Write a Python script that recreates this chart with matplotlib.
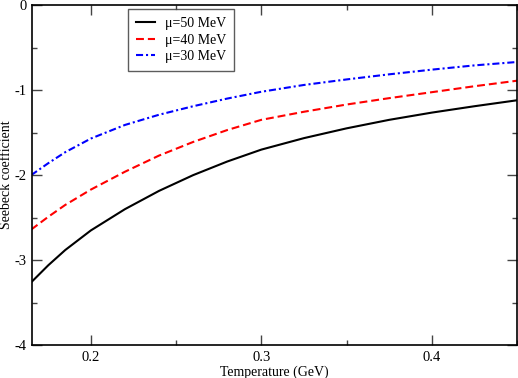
import matplotlib
matplotlib.use("Agg")
import matplotlib.pyplot as plt
from matplotlib.ticker import MultipleLocator, FormatStrFormatter

plt.rcParams["font.family"] = ["Liberation Serif", "DejaVu Serif"]
plt.rcParams["axes.unicode_minus"] = False

# Temperature grid (GeV) and Seebeck coefficient
temp = [0.165, 0.175, 0.185, 0.20, 0.22, 0.24, 0.26, 0.28, 0.30,
        0.325, 0.35, 0.375, 0.40, 0.425, 0.45]
s_mu50 = [-3.26, -3.06, -2.88, -2.65, -2.40, -2.185, -2.00, -1.84, -1.70,
          -1.565, -1.45, -1.35, -1.265, -1.19, -1.12]
s_mu40 = [-2.64, -2.49, -2.35, -2.17, -1.96, -1.77, -1.61, -1.47, -1.35,
          -1.255, -1.17, -1.095, -1.025, -0.955, -0.89]
s_mu30 = [-2.00, -1.86, -1.73, -1.57, -1.41, -1.29, -1.19, -1.10, -1.02,
          -0.94, -0.875, -0.815, -0.76, -0.71, -0.67]
labels = ["\u03bc=50 MeV", "\u03bc=40 MeV", "\u03bc=30 MeV"]

fig = plt.figure(figsize=(5.18, 3.78), dpi=100)
ax = fig.add_axes([0.0618, 0.0865, 0.9363, 0.9003])

ax.plot(temp, s_mu50, color="black", lw=1.5, label=labels[0])
ax.plot(temp, s_mu40, color="red", lw=1.5, linestyle=(0, (3.8, 1.9)), label=labels[1])
ax.plot(temp, s_mu30, color="blue", lw=1.5, linestyle=(0, (3.4, 1.4, 1.0, 1.4)), label=labels[2])

ax.set_xlim(0.1655, 0.45)
ax.set_ylim(-4, 0)
ax.xaxis.set_major_locator(MultipleLocator(0.1))
ax.xaxis.set_minor_locator(MultipleLocator(0.05))
ax.yaxis.set_major_locator(MultipleLocator(1))
ax.yaxis.set_minor_locator(MultipleLocator(0.5))
ax.xaxis.set_major_formatter(FormatStrFormatter("%.1f"))
ax.yaxis.set_major_formatter(FormatStrFormatter("%d"))

ax.tick_params(which="both", direction="in", top=True, right=True,
               labelsize=10.5, color="#444444", width=1.0)
ax.tick_params(which="major", length=7, pad=4)
ax.tick_params(which="minor", length=3.5)
for sp in ax.spines.values():
    sp.set_linewidth(1.2)

ax.set_xlabel("Temperature (GeV)", fontsize=10, labelpad=1)
ax.set_ylabel("Seebeck coefficient", fontsize=10, labelpad=1)

leg = ax.legend(loc="upper left", bbox_to_anchor=(0.198, 0.987), fontsize=10,
                frameon=True, fancybox=False, handlelength=1.4,
                borderpad=0.55, labelspacing=0.25, handletextpad=0.7,
                borderaxespad=0)
leg.get_frame().set_edgecolor("#333333")
leg.get_frame().set_linewidth(1.0)

fig.savefig("out.png", dpi=100)
